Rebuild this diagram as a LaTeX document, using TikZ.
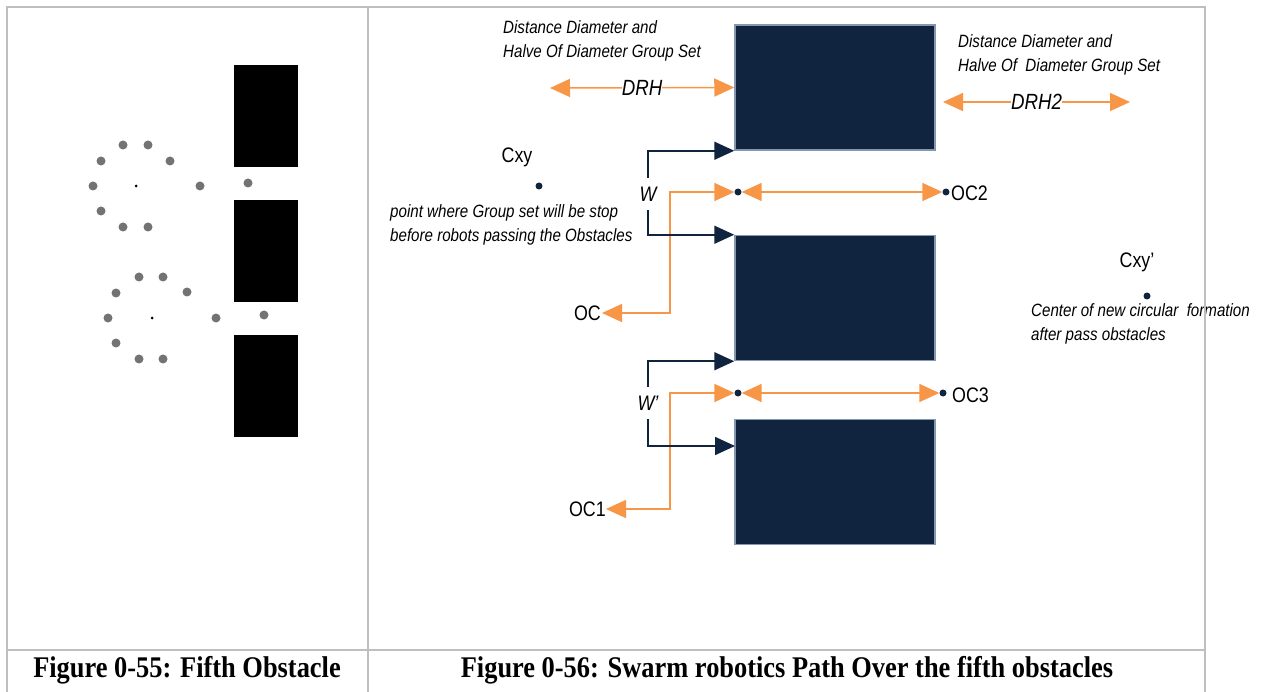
\documentclass[tikz,border=0pt]{standalone}
\usepackage{fontspec}
\setmainfont{Liberation Serif}[FakeStretch=0.88]
\setsansfont{Liberation Sans}[FakeStretch=0.85]
\usepackage{xcolor}
\usetikzlibrary{arrows.meta, positioning, calc}
\definecolor{navy}{HTML}{10233F}
\definecolor{navyedge}{HTML}{8497B0}
\definecolor{orng}{HTML}{F79646}
\definecolor{frame}{HTML}{BFBFBF}

\begin{document}
\begin{tikzpicture}[
    x=1pt, y=-1pt,
    every node/.style={font=\sffamily\fontsize{21}{25}\selectfont, inner sep=1pt},
    note/.style={font=\sffamily\itshape\fontsize{17.8}{24.5}\selectfont, align=left, anchor=north west, inner sep=0pt},
    obstacle/.style={rectangle, draw=navyedge, line width=1.5pt, fill=navy, minimum width=200pt, minimum height=125pt},
    spot/.style={circle, fill=navy, inner sep=0pt, minimum size=7pt},
    wlabel/.style={font=\sffamily\itshape\fontsize{21}{25}\selectfont, minimum height=32pt},
    dlabel/.style={fill=white, text=black, font=\sffamily\itshape\fontsize{22}{25}\selectfont, inner sep=0pt},
    figcap/.style={font=\rmfamily\bfseries\fontsize{30}{32}\selectfont, anchor=base},
    navyarrow/.style={-{Triangle[length=20pt,width=18pt]}, color=navy, line width=1.6pt},
    orangearrow/.style={{Triangle[length=20pt,width=18pt]}-{Triangle[length=20pt,width=18pt]}, color=orng, line width=1.6pt}
]
\useasboundingbox (0,0) rectangle (1265,692);

\foreach \y in {65,200,335}
    \fill[black] (234,\y) rectangle ++(64,102);
\foreach \p in {(123,145),(148,145),(101,161),(170,161),(93,186),(200,186),(101,211),(123,227),(148,227),(248,183),
                (139,277),(163,277),(116,293),(187,292),(108,318),(216,318),(116,343),(139,359),(163,359),(264,315)}
    \fill[black!55] \p circle (4.5pt);
\fill[black] (136,186) circle (1.5pt);
\fill[black] (152,318) circle (1.5pt);

\node[obstacle] (ob1) at (835,87.5) {};
\node[obstacle] (ob2) at (835,298) {};
\node[obstacle] (ob3) at (835,482) {};

\node[spot] (s1) at (738,192) {};
\node[spot] (s2) at (946,192) {};
\node[spot] (s3) at (738,393) {};
\node[spot] (s4) at (943,393) {};
\node[spot] (cxy) at (539,186) {};
\node[spot] (cxy2) at (1147,296) {};

\node (lcxy) at (517,157) {Cxy};
\node (lcxy2) at (1137,262) {Cxy'};
\node[anchor=east] (oc) at (602,313) {OC};
\node[anchor=east, inner sep=0pt] (oc1) at (606,509) {OC1};
\node[anchor=west] (oc2) at (950,193) {OC2};
\node[anchor=west] (oc3) at (951,395) {OC3};
\node[wlabel] (w) at (648,194) {W};
\node[wlabel] (w2) at (648,403) {W'};

\node[note] (n1) at (503,20) {Distance Diameter and\\Halve Of Diameter Group Set};
\node[note] (n2) at (958,34) {Distance Diameter and\\Halve Of\ \ Diameter Group Set};
\node[note] (n3) at (390,204) {point where Group set will be stop\\before robots passing the Obstacles};
\node[note] (n4) at (1031,303) {Center of new circular\ \ formation\\after pass obstacles};

\coordinate (drhl) at (550,88);
\coordinate (drh2l) at (943,102);
\coordinate (drh2r) at (1130,102);
\coordinate (k1) at (670,192);
\coordinate (k2) at (670,393);
\coordinate (t4) at (735,446);

\draw[orangearrow] (drhl) -- node[dlabel] (drh) {DRH} (ob1.west);
\draw[orangearrow] (drh2l) -- node[dlabel] (drh2) {DRH2} (drh2r);
\draw[orangearrow] (oc.east) -| (k1) -- (s1);
\draw[orangearrow] (s1) -- (s2);
\draw[orangearrow] (oc1.east) -| (k2) -- (s3);
\draw[orangearrow] (s3) -- (s4);
\draw[navyarrow] (w) |- (ob1.south west);
\draw[navyarrow] (w) |- (ob2.north west);
\draw[navyarrow] (w2) |- (ob2.south west);
\draw[navyarrow] (w2) |- (t4);

\node[figcap] (c1) at (187,677) {Figure 0-55: Fifth Obstacle};
\node[figcap] (c2) at (787,677) {Figure 0-56: Swarm robotics Path Over the fifth obstacles};

\draw[frame, line width=2pt] (7,692) -- (7,7) -- (1205,7) -- (1205,692);
\draw[frame, line width=2pt] (368,7) -- (368,692);
\draw[frame, line width=2pt] (7,650) -- (1205,650);
\end{tikzpicture}
\end{document}
